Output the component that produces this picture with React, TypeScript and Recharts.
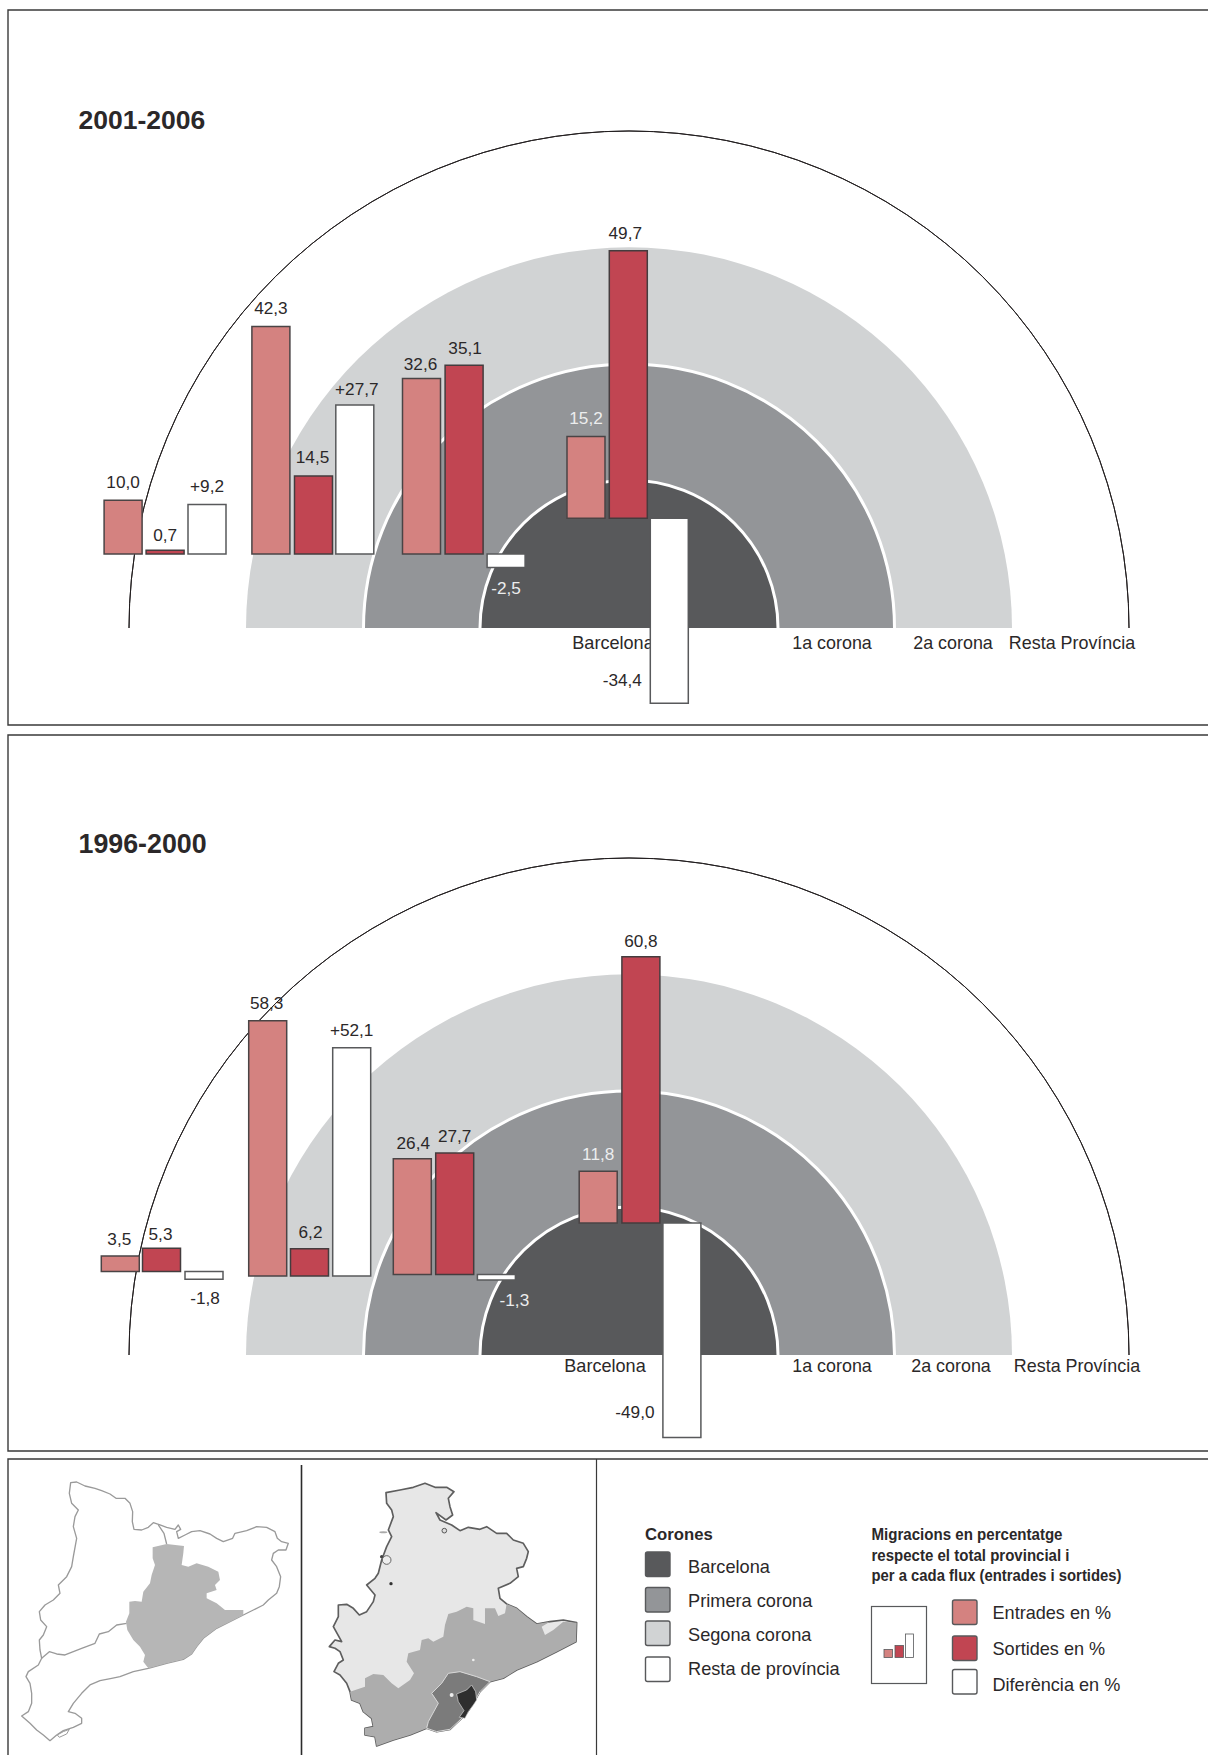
import { Bar, Cell, ComposedChart, LabelList, Pie, PieChart, XAxis, YAxis } from "recharts";

const PAGE_WIDTH = 1208;
const PAGE_HEIGHT = 1755;
const FONT = "'Liberation Sans', Arial, sans-serif";
const INK = "#2b2829";

const DARK = "#58595b";
const MID = "#939598";
const LIGHT = "#d1d3d4";
const PINK = "#d48280";
const RED = "#c14552";

// Order of each group: Resta Provincia, 2a corona, 1a corona, Barcelona
const entrades2001 = [10.0, 42.3, 32.6, 15.2];
const sortides2001 = [0.7, 14.5, 35.1, 49.7];
const diferencia2001 = [9.2, 27.7, -2.5, -34.4];

const entrades1996 = [3.5, 58.3, 26.4, 11.8];
const sortides1996 = [5.3, 6.2, 27.7, 60.8];
const diferencia1996 = [-1.8, 52.1, -1.3, -49.0];

const ringNames = ["Barcelona", "1a corona", "2a corona", "Resta Província"];
const coronaNames = ["Barcelona", "Primera corona", "Segona corona", "Resta de província"];
const fluxNames = ["Entrades en %", "Sortides en %", "Diferència en %"];

// layout only, per panel
const panels = [
  {
    title: "2001-2006",
    titleSize: 26.5,
    titleY: 129,
    top: 0,
    zeroY: 554,
    pxPerUnit: 5.38,
    arcY: 628,
    entrades: entrades2001,
    sortides: sortides2001,
    diferencia: diferencia2001,
    groupBase: [0, 0, 0, 6.65],
    centres: [123.6, 165.6, 207.5, 271.4, 314, 355.3, 422, 464.6, 506.6, 586.5, 628.8, 669.8],
    nudges: [
      [0, -1], [0, 2], [0, -2],
      [0, -1], [-1, -2], [2, 1],
      [-1, 2], [1, 0], [0, 0],
      [0, -1], [-3, -1], [-47, -44],
    ],
    ringLabels: [
      { x: 613, y: 649 },
      { x: 832, y: 649 },
      { x: 953, y: 649 },
      { x: 1072, y: 649 },
    ],
  },
  {
    title: "1996-2000",
    titleSize: 26.8,
    titleY: 853,
    top: 727,
    zeroY: 1276,
    pxPerUnit: 4.38,
    arcY: 1354.5,
    entrades: entrades1996,
    sortides: sortides1996,
    diferencia: diferencia1996,
    groupBase: [1.05, 0, 0.37, 12.1],
    centres: [119.8, 161, 203.5, 267.2, 309, 351.2, 411.8, 454.2, 495.9, 597.7, 640.4, 681.4],
    nudges: [
      [-1, 0], [-1, 3], [1, -2],
      [-1, -1], [1, 0], [0, -1],
      [1, 1], [0, 0], [18, -1],
      [0, 0], [0, 1], [-47, -47],
    ],
    ringLabels: [
      { x: 605, y: 1372 },
      { x: 832, y: 1372 },
      { x: 951, y: 1372 },
      { x: 1077, y: 1372 },
    ],
  },
];

const catPath =
  "M182 38 200 36 225 48 255 55 275 62 300 72 318 85 345 85 360 100 368 125 367 155 372 178 395 180 415 172 430 158 450 165 470 172 495 178 505 165 512 178 500 185 505 205 525 195 545 185 570 182 600 192 620 205 640 215 668 205 675 190 710 182 740 170 770 172 795 185 802 205 815 215 835 220 828 240 805 240 790 250 785 270 800 290 812 320 808 350 800 370 775 390 760 405 730 420 700 435 660 455 620 475 580 505 560 530 545 552 520 568 470 580 415 595 370 605 330 620 305 625 270 632 240 645 215 670 190 700 175 725 195 730 215 745 215 760 190 772 160 782 140 795 120 812 100 795 80 780 60 760 35 738 55 725 65 700 65 670 60 640 48 620 55 605 85 585 95 565 90 540 88 510 100 495 110 470 92 450 88 425 105 405 130 390 150 370 145 345 170 320 185 290 190 260 200 205 190 170 195 140 205 120 185 100 178 70Z";
const catInnerA = "M445 165 462 190 470 222";
const catInnerB = "M350 460 320 465 295 485 268 492 255 520 215 535 165 555 140 552 118 545 95 565";
const bcnProvince =
  "M428 232 470 222 522 228 520 250 515 285 535 290 560 280 595 290 625 305 630 330 615 345 620 360 590 370 590 385 620 400 645 420 700 420 700 435 660 455 620 475 580 505 560 530 545 552 520 568 470 580 415 595 400 575 405 555 390 530 370 510 352 480 348 455 358 430 358 395 375 393 395 395 400 365 420 340 425 315 435 285 428 265Z";

const provinceOutline =
  "M228 68 270 60 310 52 345 40 375 52 410 52 432 65 415 85 420 110 428 135 408 150 378 128 390 150 425 165 450 182 475 172 510 178 530 170 560 190 590 190 610 210 640 220 655 245 650 265 640 290 620 295 625 320 600 340 565 355 570 385 590 402 620 415 650 440 680 462 720 455 760 450 800 458 798 515 740 545 680 575 620 600 580 625 540 635 510 665 490 700 470 730 450 750 420 778 380 785 350 775 300 795 250 810 200 828 195 800 165 795 165 775 190 770 185 745 160 725 150 700 125 690 120 665 110 640 90 615 72 605 85 580 100 570 90 545 75 535 58 530 75 510 95 515 70 470 85 440 85 405 110 403 130 415 148 435 170 425 190 395 195 375 170 345 195 325 205 310 215 270 230 230 245 200 235 180 250 140 245 120 230 100Z";
const segonaArea =
  "M415 432 440 425 470 410 490 415 490 450 525 462 525 415 555 415 565 438 585 430 590 402 620 415 650 440 680 462 720 455 695 470 705 495 730 480 760 455 800 458 798 515 740 545 680 575 620 600 580 625 540 635 500 620 450 605 415 610 395 640 365 670 385 700 350 770 350 775 300 795 250 810 200 828 195 800 165 795 165 775 190 770 185 745 160 725 150 700 125 690 120 665 165 650 165 625 190 612 220 615 245 640 265 655 300 630 312 610 290 575 295 550 330 540 335 510 355 505 370 515 400 500 405 465Z";
const primeraArea =
  "M415 610 450 605 500 620 540 635 510 665 490 700 470 730 450 750 420 778 380 785 350 775 355 755 385 700 365 670 395 640Z";
const bcnArea = "M440 672 470 660 485 645 497 665 500 690 490 705 475 725 465 745 448 742 462 722 445 695Z";

function fmt(v: number, signed: boolean) {
  const s = Math.abs(v).toFixed(1).replace(".", ",");
  if (v < 0) return "-" + s;
  return signed ? "+" + s : s;
}

function buildRows(p: (typeof panels)[number]) {
  const rows: any[] = [];
  p.entrades.forEach((_, g) => {
    const base = p.groupBase[g];
    [p.entrades[g], p.sortides[g], p.diferencia[g]].forEach((v, k) => {
      rows.push({
        pos: p.centres[g * 3 + k],
        range: v < 0 ? [base + v, base] : [base, base + v],
        label: fmt(v, k === 2),
        kind: k,
        negative: v < 0,
        light: g === 3 ? k === 0 : g === 2 && k === 2,
      });
    });
  });
  return rows;
}

const kindFill = [PINK, RED, "#ffffff"];
const kindStroke = ["#4a4445", "#443c3e", "#58595b"];

function BarsPanel({ panel }: { panel: (typeof panels)[number] }) {
  const rows = buildRows(panel);
  const height = 720;
  const yMax = (panel.zeroY - panel.top) / panel.pxPerUnit;
  const yMin = -(panel.top + height - panel.zeroY) / panel.pxPerUnit;

  const renderLabel = (props: any) => {
    const { x, y, width, height: h, value, index } = props;
    const row = rows[index];
    const [dx, dy] = panel.nudges[index];
    const ty = row.negative ? y + h + 27 : y - 11;
    return (
      <text
        x={x + width / 2 + dx}
        y={ty + dy}
        textAnchor="middle"
        fontFamily={FONT}
        fontSize={17.2}
        fill={row.light ? "#ecedee" : INK}
      >
        {value}
      </text>
    );
  };

  return (
    <div style={{ position: "absolute", left: 0, top: panel.top }}>
      <ComposedChart width={PAGE_WIDTH} height={height} data={rows} margin={{ top: 0, right: 0, bottom: 0, left: 0 }}>
        <XAxis hide type="number" dataKey="pos" domain={[0, PAGE_WIDTH]} />
        <YAxis hide type="number" domain={[yMin, yMax]} allowDataOverflow />
        <Bar dataKey="range" barSize={38} strokeWidth={1.5} isAnimationActive={false}>
          {rows.map((r, i) => (
            <Cell key={i} fill={kindFill[r.kind]} stroke={kindStroke[r.kind]} />
          ))}
          <LabelList dataKey="label" content={renderLabel} />
        </Bar>
      </ComposedChart>
    </div>
  );
}

const one = [{ v: 1 }];

function RingsPanel({ arcY }: { arcY: number }) {
  const half = { data: one, dataKey: "v", cx: 629, cy: 640, startAngle: 180, endAngle: 0, isAnimationActive: false };
  return (
    <div
      style={{
        position: "absolute",
        left: 0,
        top: arcY - 640,
        transform: "scaleY(0.994)",
        transformOrigin: "0 640px",
      }}
    >
      <PieChart width={PAGE_WIDTH} height={640} margin={{ top: 0, right: 0, bottom: 0, left: 0 }}>
        <Pie {...half} innerRadius={500} outerRadius={500} fill="none" stroke="#231f20" strokeWidth={1} />
        <Pie {...half} innerRadius={0} outerRadius={383} fill={LIGHT} stroke="none" />
        <Pie {...half} innerRadius={0} outerRadius={265.5} fill={MID} stroke="none" />
        <Pie {...half} innerRadius={265.5} outerRadius={265.5} fill="none" stroke="#fff" strokeWidth={3} />
        <Pie {...half} innerRadius={0} outerRadius={149} fill={DARK} stroke="none" />
        <Pie {...half} innerRadius={149} outerRadius={149} fill="none" stroke="#fff" strokeWidth={3} />
      </PieChart>
    </div>
  );
}

function Frames() {
  return (
    <g fill="none">
      <path d="M1208 10H8V725H1208" stroke="#3a3a3a" strokeWidth={1.4} />
      <path d="M1208 735H8V1451H1208" stroke="#3a3a3a" strokeWidth={1.4} />
      <path d="M8 1755V1459H1208" stroke="#3a3a3a" strokeWidth={1.4} />
      <path d="M301.5 1465V1755" stroke="#2b2b2b" strokeWidth={1.6} />
      <path d="M596.5 1459V1755" stroke="#3a3a3a" strokeWidth={1.2} />
    </g>
  );
}

function Maps() {
  return (
    <g strokeLinejoin="round">
      <g transform="translate(10 1470) scale(0.3333)">
        <path d={catPath} fill="#fff" stroke="#9a9a9a" strokeWidth={4} />
        <path d={catInnerA} fill="none" stroke="#9a9a9a" strokeWidth={4} />
        <path d={catInnerB} fill="none" stroke="#9a9a9a" strokeWidth={4} />
        <path d={bcnProvince} fill="#b6b6b6" stroke="none" />
        <path d="M142 795 160 785 178 778 170 792 148 802Z" fill="#fff" stroke="#9a9a9a" strokeWidth={3} />
      </g>
      <g transform="translate(310 1470) scale(0.3333)">
        <path d={provinceOutline} fill="#e7e7e7" stroke="#5e5e5e" strokeWidth={5} />
        <path d={segonaArea} fill="#adadad" stroke="none" />
        <path d={primeraArea} fill="#7b7b7b" stroke="#d8d8d8" strokeWidth={3} />
        <path d={bcnArea} fill="#2e2e2e" stroke="#d8d8d8" strokeWidth={2} />
        <circle cx={425} cy={675} r={6} fill="#eee" />
        <circle cx={243} cy={341} r={5} fill="#333" />
        <circle cx={215} cy={260} r={5} fill="#444" />
        <circle cx={230} cy={270} r={13} fill="#eee" stroke="#666" strokeWidth={3} />
        <circle cx={403} cy={182} r={7} fill="#ddd" stroke="#555" strokeWidth={3} />
        <ellipse cx={220} cy={187} rx={12} ry={3} fill="#aaa" />
        <circle cx={490} cy={570} r={4} fill="#eee" />
      </g>
    </g>
  );
}

function Swatch({ x, y, fill }: { x: number; y: number; fill: string }) {
  return <rect x={x} y={y} width={24.5} height={24.5} rx={2} fill={fill} stroke="#58595b" strokeWidth={1.4} />;
}

function Legends() {
  const coronaFill = [DARK, MID, LIGHT, "#fff"];
  const coronaY = [1552, 1587.5, 1621, 1657];
  const coronaText = [1573, 1607, 1641, 1675];
  const fluxFill = [PINK, RED, "#fff"];
  const fluxY = [1600, 1636, 1669.5];
  const fluxText = [1619, 1655, 1691];
  const titleLines = [
    "Migracions en percentatge",
    "respecte el total provincial i",
    "per a cada flux (entrades i sortides)",
  ];
  const titleLineY = [1540, 1561, 1581];
  const titleLineW = [191, 198, 250];
  return (
    <g fontFamily={FONT} fill={INK}>
      <text x={645} y={1540} fontSize={16.7} fontWeight={700}>Corones</text>
      {coronaNames.map((n, i) => (
        <g key={n}>
          <Swatch x={645.5} y={coronaY[i]} fill={coronaFill[i]} />
          <text x={688} y={coronaText[i]} fontSize={18.2}>{n}</text>
        </g>
      ))}
      {titleLines.map((t, i) => (
        <text
          key={t}
          x={871.5}
          y={titleLineY[i]}
          fontSize={17}
          fontWeight={700}
          textLength={titleLineW[i]}
          lengthAdjust="spacingAndGlyphs"
        >
          {t}
        </text>
      ))}
      <rect x={871.5} y={1606.5} width={55} height={77} fill="#fff" stroke="#58595b" strokeWidth={1.2} />
      <rect x={884} y={1649.5} width={8.5} height={8} fill={PINK} stroke="#58595b" strokeWidth={0.8} />
      <rect x={895} y={1645.5} width={8.5} height={12} fill={RED} stroke="#58595b" strokeWidth={0.8} />
      <rect x={905.5} y={1634} width={8} height={23.5} fill="#fff" stroke="#58595b" strokeWidth={0.8} />
      {fluxNames.map((n, i) => (
        <g key={n}>
          <Swatch x={952.5} y={fluxY[i]} fill={fluxFill[i]} />
          <text x={992.5} y={fluxText[i]} fontSize={18.1}>{n}</text>
        </g>
      ))}
    </g>
  );
}

export default function App() {
  return (
    <div style={{ position: "absolute", left: 0, top: 0, width: PAGE_WIDTH, height: PAGE_HEIGHT, overflow: "hidden", background: "#fff" }}>
      {panels.map((p) => (
        <RingsPanel key={p.title} arcY={p.arcY} />
      ))}
      <svg width={PAGE_WIDTH} height={PAGE_HEIGHT} style={{ position: "absolute", left: 0, top: 0 }}>
        <Frames />
        <Maps />
        <Legends />
        {panels.map((p) => (
          <g key={p.title} fontFamily={FONT} fill={INK}>
            <text x={78.5} y={p.titleY} fontSize={p.titleSize} fontWeight={700}>{p.title}</text>
            {ringNames.map((n, i) => (
              <text key={n} x={p.ringLabels[i].x} y={p.ringLabels[i].y} fontSize={i === 0 ? 18.1 : 17.9} textAnchor="middle">{n}</text>
            ))}
          </g>
        ))}
      </svg>
      {panels.map((p) => (
        <BarsPanel key={p.title} panel={p} />
      ))}
    </div>
  );
}
